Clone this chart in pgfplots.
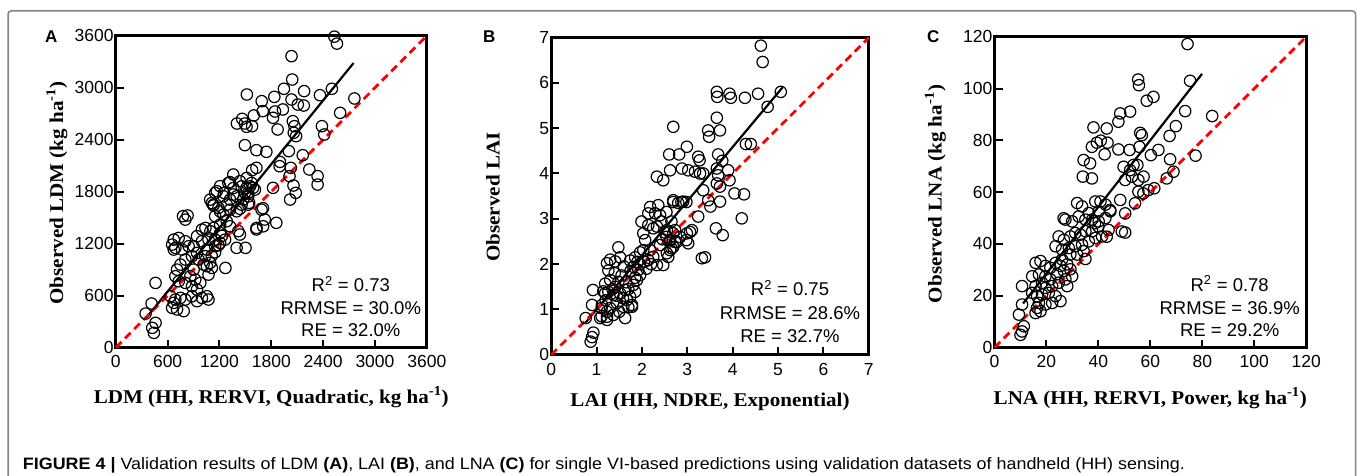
\documentclass[border=0pt]{standalone}
\usepackage{pgfplots}
\pgfplotsset{compat=1.18}
\usepackage{fontspec}
\setmainfont{Liberation Sans}
\newfontfamily\lblfont[FakeStretch=1.08]{Liberation Serif}
\definecolor{framegray}{RGB}{130,130,130}
\pgfplotsset{
  myax/.style={
    scale only axis, anchor=south west, clip=false,
    axis line style={line width=3pt, black},
    tick align=inside, xtick pos=left, ytick pos=left,
    major tick length=8pt,
    every tick/.style={black, line width=2pt},
    tick label style={font=\fontsize{17.5}{20}\selectfont, inner sep=0pt},
    xticklabel style={anchor=north, yshift=-8pt},
    yticklabel style={anchor=east, xshift=-2pt},
    /pgf/number format/assume math mode=true,
    /pgf/number format/1000 sep={},
  },
  pts/.style={only marks, mark=o, mark size=5.7pt, black, mark options={line width=1.2pt}},
  fit/.style={black, line width=2.2pt, no marks},
  one/.style={red, line width=2.8pt, dash pattern=on 8pt off 5pt, no marks},
}
\newcommand{\lbl}{\lblfont\bfseries\fontsize{19.5}{22}\selectfont}
\newcommand{\stat}{\fontsize{18.5}{22}\selectfont}
\begin{document}
\begin{tikzpicture}
% frame
\draw[framegray, line width=1.5pt, rounded corners=3pt] (8pt,-11pt) rectangle (1355.5pt,-500pt);

% ---------------- A ----------------
\begin{axis}[myax, at={(115.8pt,-347.5pt)}, width=311pt, height=311.7pt,
  xmin=0, xmax=3600, ymin=0, ymax=3600,
  xtick={0,600,...,3600}, ytick={0,600,...,3600}]
\addplot[pts] coordinates {
(2530,3590) (2560,3510) (2034,3365) (2042,3095) (1946,2988) (2180,2961) (2501,2988) (2363,2914)
(2762,2876) (1517,2922) (1835,2895) (2034,2864) (1689,2845) (2107,2806) (2176,2795) (1934,2749)
(1843,2726) (1701,2730) (1820,2653) (2597,2710) (1597,2680) (1463,2641) (1402,2587) (1513,2549)
(1578,2556) (1494,2587) (2049,2614) (2068,2556) (1873,2518) (2386,2556) (2413,2460) (2087,2441)
(2060,2480) (1494,2337) (1628,2279) (1743,2260) (2003,2268) (2164,2221) (1628,2075) (1578,2048)
(1900,2144) (1896,2094) (2026,2075) (2240,2056) (2011,1979) (2336,1979) (1360,1998) (1322,1910)
(1437,1921) (1207,1863) (1169,1805) (1253,1786) (1360,1767) (1513,1844) (1590,1844) (1532,1786)
(1820,1844) (2057,1871) (2336,1882) (2083,1786) (2018,1709) (1130,1640) (1207,1571) (1437,1602)
(1544,1671) (1704,1609) (1724,1478) (1858,1440) (1628,1363) (1418,1344) (1437,1305) (1398,1151)
(1502,1151) (778,1517) (831,1525) (690,1151) (1269,919)
(1514,1958) (1303,1900) (1361,1842) (1456,1861) (1553,1861) (1610,1823) (1150,1785) (1246,1746)
(1322,1708) (1399,1746) (1476,1708) (1533,1650) (1112,1669) (1188,1612) (1284,1650) (1322,1592)
(1399,1573) (1456,1650) (1150,1516) (1246,1535) (1687,1592) (1629,1381) (1706,1400)
(805,1477) (997,1362) (1038,1381) (1095,1343) (1208,1323) (1265,1246) (1208,1208) (1150,1246)
(1073,1246) (997,1227) (940,1285) (901,1169) (940,1093) (882,1054) (958,1016) (1035,1054)
(1054,1131) (1092,977) (1016,958) (805,1016) (748,958) (709,900) (690,823) (729,765)
(805,746) (901,900) (863,823) (920,784) (978,746) (882,708) (940,669) (1054,939)
(1073,842) (1112,919) (633,592) (690,554) (748,573) (805,554) (882,592) (940,535)
(997,573) (1054,592) (1073,554) (652,458) (709,439) (786,420) (671,516) (1322,1400)
(1284,1458) (1208,1419) (1131,1381) (1092,1708) (1131,1650) (1495,1785) (1533,1746) (1572,1900)
(460,746) (414,508) (345,392) (460,285) (422,227) (441,169) (671,1246) (728,1265)
(805,1227) (843,1169) (767,1131) (671,1131) (652,1188) (1150,1170) (1150,1100) (1188,1180)
(1230,1290) (1110,1060)
};
\addplot[fit] coordinates {(353,343) (2752,3285)};
\addplot[one] coordinates {(0,0) (3600,3600)};
\end{axis}

% ---------------- B ----------------
\begin{axis}[myax, at={(551.2pt,-354.8pt)}, width=317.6pt, height=317.3pt,
  xmin=0, xmax=7, ymin=0, ymax=7,
  xtick={0,...,7}, ytick={0,...,7}]
\addplot[pts] coordinates {
(4.62,6.82) (4.66,6.46) (3.65,5.80) (3.66,5.69) (3.93,5.76) (3.96,5.67) (4.27,5.67) (4.56,5.76)
(5.06,5.80) (4.77,5.47) (3.65,5.23) (2.69,5.03) (3.46,4.95) (3.48,4.81) (3.72,4.95) (4.29,4.65)
(4.40,4.65) (2.99,4.59) (2.60,4.42) (2.82,4.42) (3.24,4.37) (3.27,4.29) (3.68,4.42) (3.77,4.28)
(2.88,4.11) (2.62,4.07) (3.02,4.07) (3.17,4.04) (3.28,4.00) (3.35,4.00) (3.65,4.11) (3.68,3.96)
(3.90,4.07) (3.93,3.85) (2.33,3.93) (2.47,3.85) (3.35,3.63) (3.65,3.78) (3.72,3.71) (4.04,3.56)
(4.25,3.54) (2.69,3.41) (2.80,3.35) (2.91,3.38) (3.46,3.41) (3.51,3.27) (3.72,3.38) (4.20,3.01)
(3.63,2.79) (3.78,2.64) (3.24,3.05) (3.32,2.13) (3.39,2.15) (0.92,1.43) (0.90,1.10) (0.76,0.81)
(0.93,0.49) (0.90,0.39) (0.87,0.29) (1.63,0.81)
(1.48,2.37) (1.30,2.10) (1.23,2.02) (1.41,2.06) (1.52,2.15) (1.26,1.86) (1.19,1.57) (1.30,1.65)
(1.41,1.50) (1.48,1.61) (1.26,1.39) (1.37,1.32) (1.52,1.35) (1.63,1.43) (1.11,1.03) (1.23,0.95)
(1.30,1.03) (1.45,1.14) (1.59,1.06) (1.67,1.21) (1.74,1.28) (1.85,1.39) (1.11,0.85) (1.23,0.77)
(1.37,0.88) (1.78,1.06) (1.81,1.54) (1.89,1.65) (1.96,1.76) (1.92,1.87) (1.81,1.94) (1.74,2.08)
(1.85,2.15) (1.96,2.26) (2.03,2.31) (2.14,2.09) (2.25,2.16) (2.18,2.31) (2.33,1.98) (2.47,1.98)
(2.58,2.16) (2.62,2.31) (2.03,2.68) (2.14,2.86) (2.25,2.79) (2.07,2.53) (2.40,2.42) (2.54,2.60)
(2.65,2.35) (1.99,2.94) (2.14,3.12) (2.29,3.12) (2.40,3.08) (2.54,3.15) (2.43,2.94) (2.33,2.83)
(2.65,2.94) (2.73,2.75) (2.18,3.26) (2.36,3.30) (2.69,3.37) (2.87,3.37) (2.98,3.37) (2.73,2.49)
(2.84,2.60) (2.98,2.53) (3.06,2.71)
(1.55,1.75) (1.65,1.60) (1.70,1.45) (1.58,1.25) (1.45,1.30) (1.35,1.45) (1.75,1.85) (1.60,1.95)
(1.40,1.80) (1.85,1.70) (1.90,2.05) (2.05,2.05) (1.20,1.20) (1.15,1.40) (1.50,0.95) (1.95,2.00)
(2.10,1.90) (2.20,2.00) (1.70,1.05) (2.60,2.50) (2.50,2.70) (2.45,2.55) (1.12,1.10) (1.19,1.36)
(1.23,0.84) (1.08,0.81) (1.78,1.10) (2.99,2.68) (3.02,2.46) (3.10,2.75) (2.55,2.75) (2.69,2.68)
(2.62,2.53) (2.77,2.49) (2.69,2.38) (2.55,2.24)
};
\addplot[fit] coordinates {(0.75,0.70) (5.10,5.90)};
\addplot[one] coordinates {(0,0) (7,7)};
\end{axis}

% ---------------- C ----------------
\begin{axis}[myax, at={(994.5pt,-347.5pt)}, width=311.7pt, height=310.7pt,
  xmin=0, xmax=120, ymin=0, ymax=120,
  xtick={0,20,...,120}, ytick={0,20,...,120}]
\addplot[pts] coordinates {
(74.3,117.2) (55.3,103.5) (55.6,101.3) (75.3,103.0) (61.2,96.8) (58.6,95.3) (52.2,91.1) (48.4,90.4)
(47.7,87.2) (83.8,89.4) (73.4,91.3) (69.8,85.5) (67.4,81.7) (38.1,85.0) (43.2,84.6) (37.5,77.5)
(39.4,79.1) (40.9,79.9) (43.5,79.1) (42.4,74.6) (47.7,76.5) (52.0,76.3) (56.1,82.9) (56.7,82.0)
(55.8,77.5) (63.1,76.3) (60.2,74.3) (77.4,74.1) (67.6,72.7) (34.3,72.4) (36.8,71.1) (34.0,66.0)
(37.5,65.3) (49.7,69.8) (53.5,70.5) (55.0,70.5) (52.2,68.5) (50.3,64.7) (52.9,66.0) (55.4,64.7)
(57.4,66.0) (66.3,65.3) (68.9,67.9) (55.4,60.2) (57.3,59.5) (59.2,60.8) (61.5,61.5) (54.1,55.7)
(48.4,57.0) (44.5,53.1) (50.3,51.8) (49.0,44.8) (50.3,44.4) (43.9,45.4) (43.2,42.8) (40.0,46.7)
(38.7,48.0)
(31.8,55.8) (33.7,54.5) (38.8,56.4) (40.8,56.4) (42.7,55.2) (44.6,52.6) (40.1,52.6) (36.3,51.9)
(27.3,49.4) (29.9,48.7) (32.4,50.6) (35.0,49.4) (37.6,49.4) (40.1,48.7) (42.7,50.0) (24.7,42.9)
(26.7,41.6) (29.2,42.9) (31.1,44.2) (33.1,43.6) (35.0,44.9) (37.6,44.9) (38.8,42.3) (41.4,42.9)
(23.5,39.1) (26.0,37.8) (28.6,38.4) (31.1,39.1) (33.7,39.7) (36.3,41.0) (34.3,37.2) (31.8,35.9)
(29.2,35.9) (35.0,34.2) (15.8,32.7) (17.7,33.4) (19.6,31.5) (21.5,30.8) (23.5,32.7) (26.0,34.0)
(25.4,31.5) (28.0,32.1) (29.2,30.2) (26.7,29.6) (24.1,28.3) (14.5,27.5) (17.1,28.2) (19.6,27.5)
(21.5,26.3) (18.3,25.0) (15.8,23.7) (19.6,23.0) (22.2,23.7) (24.7,25.0) (27.3,26.3) (29.9,27.5)
(28.0,23.7) (10.6,23.7) (14.5,21.1) (16.4,19.8) (18.3,20.4) (20.9,21.1) (23.5,19.8) (25.4,17.9)
(22.2,17.2) (19.6,16.6) (17.1,17.2) (16.4,15.3) (15.8,13.3) (17.7,14.0) (9.4,12.7) (10.6,16.6)
(11.3,8.2) (10.6,6.2) (10.0,4.9) (26.6,49.9)
};
\addplot[fit] coordinates {(11,17) (79.9,105.7)};
\addplot[one] coordinates {(0,0) (120,120)};
\end{axis}

% panel letters
\node[anchor=base west, inner sep=0pt] at (45pt,-43pt) {\bfseries\fontsize{17}{19}\selectfont A};
\node[anchor=base west, inner sep=0pt] at (483pt,-43pt) {\bfseries\fontsize{17}{19}\selectfont B};
\node[anchor=base west, inner sep=0pt] at (927pt,-43pt) {\bfseries\fontsize{17}{19}\selectfont C};

% axis labels
\node[anchor=base, inner sep=0pt] at (271.3pt,-403pt) {\lbl LDM (HH, RERVI, Quadratic, kg ha\textsuperscript{-1})};
\node[anchor=base, inner sep=0pt] at (710pt,-406pt) {\lbl LAI (HH, NDRE, Exponential)};
\node[anchor=base, inner sep=0pt] at (1150.3pt,-404pt) {\lbl LNA (HH, RERVI, Power, kg ha\textsuperscript{-1})};
\node[rotate=90, anchor=base, inner sep=0pt] at (63pt,-193pt) {\lbl Observed LDM (kg ha\textsuperscript{-1})};
\node[rotate=90, anchor=base, inner sep=0pt] at (499.5pt,-197pt) {\lbl Observed LAI};
\node[rotate=90, anchor=base, inner sep=0pt] at (941.5pt,-194pt) {\lbl Observed LNA (kg ha\textsuperscript{-1})};

% statistics
\node[anchor=base, inner sep=0pt] at (350.8pt,-291.7pt) {\stat R\textsuperscript{2} = 0.73};
\node[anchor=base, inner sep=0pt] at (350.8pt,-314pt) {\stat RRMSE = 30.0\%};
\node[anchor=base, inner sep=0pt] at (350.8pt,-336.7pt) {\stat RE = 32.0\%};
\node[anchor=base, inner sep=0pt] at (790pt,-295.7pt) {\stat R\textsuperscript{2} = 0.75};
\node[anchor=base, inner sep=0pt] at (790pt,-319.3pt) {\stat RRMSE = 28.6\%};
\node[anchor=base, inner sep=0pt] at (790pt,-342.3pt) {\stat RE = 32.7\%};
\node[anchor=base, inner sep=0pt] at (1229.7pt,-291pt) {\stat R\textsuperscript{2} = 0.78};
\node[anchor=base, inner sep=0pt] at (1229.7pt,-314.3pt) {\stat RRMSE = 36.9\%};
\node[anchor=base, inner sep=0pt] at (1229.7pt,-336.7pt) {\stat RE = 29.2\%};

% caption
\node[anchor=base west, inner sep=0pt] at (22.7pt,-469pt) {\resizebox{1162pt}{\height}{\fontsize{16.5}{19}\selectfont\textbf{FIGURE 4 |} Validation results of LDM \textbf{(A)}, LAI \textbf{(B)}, and LNA \textbf{(C)} for single VI-based predictions using validation datasets of handheld (HH) sensing.}};

\pgfresetboundingbox
\useasboundingbox (0,0) rectangle (1357pt,-476pt);
\end{tikzpicture}
\end{document}
